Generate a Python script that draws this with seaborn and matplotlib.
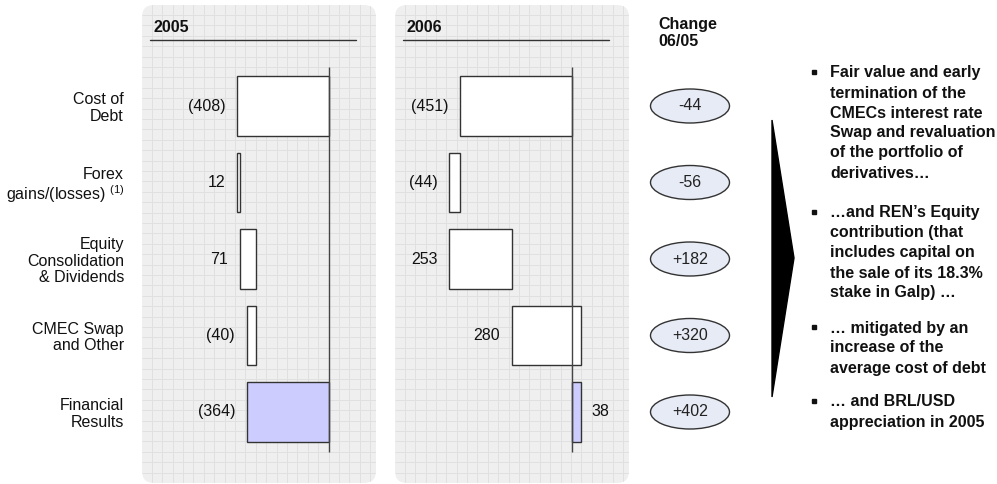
import numpy as np
import pandas as pd
import matplotlib
matplotlib.use("Agg")
import matplotlib.pyplot as plt
import seaborn as sns
from matplotlib.patches import FancyBboxPatch, Ellipse, Polygon

# ---------------- data ----------------
categories = ["Cost of\nDebt", "Forex\ngains/(losses) $^{(1)}$",
              "Equity\nConsolidation\n& Dividends", "CMEC Swap\nand Other",
              "Financial\nResults"]
years = ["2005", "2006"]
values_2005 = [-408, 12, 71, -40, -364]
values_2006 = [-451, -44, 253, 280, 38]
change_labels = ["-44", "-56", "+182", "+320", "+402"]
change_title = "Change\n06/05"
bullets = [
    ["Fair value and early", "termination of the", "CMECs interest rate",
     "Swap and revaluation", "of the portfolio of", "derivatives…"],
    ["…and REN’s Equity", "contribution (that", "includes capital on",
     "the sale of its 18.3%", "stake in Galp) …"],
    ["… mitigated by an", "increase of the", "average cost of debt"],
    ["… and BRL/USD", "appreciation in 2005"],
]

# ---------------- style ----------------
sns.set_theme(style="white")
plt.rcParams["font.family"] = ["Liberation Sans", "DejaVu Sans"]
plt.rcParams["mathtext.fontset"] = "custom"
plt.rcParams["mathtext.rm"] = "Liberation Sans"
plt.rcParams["mathtext.it"] = "Liberation Sans"
plt.rcParams["mathtext.bf"] = "Liberation Sans:bold"

W, H = 997, 484
fig = plt.figure(figsize=(W / 100, H / 100), dpi=100)
fig.patch.set_facecolor("white")

# decoration axes in pixel coordinates
deco = fig.add_axes([0, 0, 1, 1], zorder=0)
deco.set_xlim(0, W)
deco.set_ylim(H, 0)
deco.axis("off")

panels = [(142, 376), (395, 629)]
for (x0, x1), yr in zip(panels, years):
    box = FancyBboxPatch((x0, 5), x1 - x0, 478,
                         boxstyle="round,pad=0,rounding_size=12",
                         facecolor="#efefef", edgecolor="none", zorder=0)
    deco.add_patch(box)
    gx = np.arange(x0 + 9.7, x1, 10.4)
    gy = np.arange(15, H, 10.4)
    vl = deco.vlines(gx, 0, H, color="#e0e0e0", lw=0.7, zorder=0.5)
    hl = deco.hlines(gy, x0, x1, color="#e0e0e0", lw=0.7, zorder=0.5)
    vl.set_clip_path(box)
    hl.set_clip_path(box)
    deco.text(x0 + 11, 27, yr, fontsize=11.5, fontweight="bold",
              ha="left", va="center", color="#111")
    deco.plot([x0 + 8, x1 - 20], [40, 40], color="#333", lw=1)

deco.text(658, 33, change_title, fontsize=11.5, fontweight="bold",
          ha="left", va="center", color="#111", linespacing=1.15)

# black arrow triangle
deco.add_patch(Polygon([[772, 120], [794, 258], [772, 397]], closed=True,
                       facecolor="black", edgecolor="black"))

# bullet text
para_top = [73, 213, 328, 402]
for lines, y0 in zip(bullets, para_top):
    deco.plot([813.5], [y0 - 1], marker="s", ms=3.2, color="#111", mec="#111")
    for k, line in enumerate(lines):
        deco.text(830, y0 + k * 20, line, fontsize=11.5, fontweight="bold",
                  ha="left", va="center", color="#111")

# ---------------- data axes ----------------
row0, row_step = 106, 76.5
ylim = ((H - row0) / row_step, (0 - row0) / row_step)

def waterfall(vals):
    lefts, widths = [], []
    cum = 0
    for v in vals[:-1]:
        lefts.append(cum)
        widths.append(v)
        cum += v
    lefts.append(0)
    widths.append(vals[-1])
    return lefts, widths

def fmt(v):
    return f"({abs(v)})" if v < 0 else f"{v}"

axis_specs = [
    (panels[0], 329, 0.2255, values_2005),
    (panels[1], 572, 0.248, values_2006),
]
for idx, ((x0, x1), base_px, scale, vals) in enumerate(axis_specs):
    ax = fig.add_axes([x0 / W, 0, (x1 - x0) / W, 1], zorder=1)
    ax.set_facecolor("none")
    ax.set_xlim((x0 - base_px) / scale, (x1 - base_px) / scale)
    ax.set_ylim(*ylim)
    df = pd.DataFrame({"cat": categories, "value": vals})
    lefts, widths = waterfall(df["value"].tolist())
    colors = ["white"] * (len(vals) - 1) + ["#ccccff"]
    ax.barh(np.arange(len(vals)), widths, left=lefts, height=0.78,
            color=colors, edgecolor="#333333", linewidth=1, zorder=2)
    ax.vlines(0, -0.51, 4.52, color="#444", lw=1, zorder=3)
    for i, (l, w, v) in enumerate(zip(lefts, widths, vals)):
        lo, hi = min(l, l + w), max(l, l + w)
        if i == len(vals) - 1 and v > 0:
            ax.annotate(fmt(v), xy=(hi, i), xytext=(7, 0),
                        textcoords="offset points", ha="left", va="center",
                        fontsize=11.5, color="#111")
        else:
            ax.annotate(fmt(v), xy=(lo, i), xytext=(-8.5, 0),
                        textcoords="offset points", ha="right", va="center",
                        fontsize=11.5, color="#111")
    for s in ax.spines.values():
        s.set_visible(False)
    ax.set_xticks([])
    if idx == 0:
        ax.set_yticks(np.arange(len(categories)))
        ax.set_yticklabels(categories, fontsize=11.5, linespacing=1.1,
                           color="#111")
        ax.tick_params(axis="y", length=0, pad=13)
    else:
        ax.set_yticks([])
    ax.set_xlabel("")
    ax.set_ylabel("")

# change column ellipses
axc = fig.add_axes([640 / W, 0, 105 / W, 1], zorder=1)
axc.set_facecolor("none")
axc.set_xlim(640, 745)
axc.set_ylim(*ylim)
axc.axis("off")
for i, lab in enumerate(change_labels):
    axc.add_patch(Ellipse((690, i), 79, 34 / row_step, facecolor="#e7ebf5",
                          edgecolor="#333", lw=1))
    axc.text(690, i, lab, ha="center", va="center", fontsize=11.5,
             color="#222")

fig.savefig("out.png", dpi=100)
